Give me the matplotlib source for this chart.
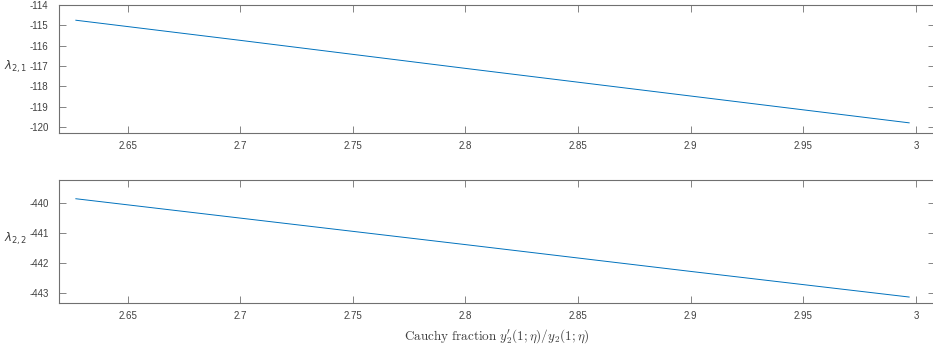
import matplotlib
matplotlib.use("Agg")
import matplotlib.pyplot as plt

# data
x_vals = [2.627, 2.70, 2.80, 2.90, 2.997]
lam21 = [-114.75, -115.74, -117.12, -118.48, -119.80]
lam22 = [-439.85, -440.50, -441.39, -442.29, -443.15]
xticks = [2.65, 2.7, 2.75, 2.8, 2.85, 2.9, 2.95, 3.0]
xtick_labels = ["2.65", "2.7", "2.75", "2.8", "2.85", "2.9", "2.95", "3"]
yticks1 = [-120, -119, -118, -117, -116, -115, -114]
yticks2 = [-443, -442, -441, -440]

plt.rcParams['font.family'] = ['Liberation Sans', 'DejaVu Sans']
plt.rcParams['axes.unicode_minus'] = False

fig = plt.figure(figsize=(9.33, 3.54), dpi=100)
ax1 = fig.add_axes([0.0632, 0.6243, 0.939, 0.3616])
ax2 = fig.add_axes([0.0632, 0.1441, 0.939, 0.3475])

dark = '#404040'
spine = '#707070'
blue = '#0072BD'

for ax, y, yt, ylim, lab in [
    (ax1, lam21, yticks1, (-120.3, -114.0), r'$\lambda_{2,1}$'),
    (ax2, lam22, yticks2, (-443.35, -439.22), r'$\lambda_{2,2}$'),
]:
    ax.plot(x_vals, y, color=blue, lw=0.7)
    ax.set_xlim(2.6195, 3.0085)
    ax.set_ylim(*ylim)
    ax.set_xticks(xticks)
    ax.set_xticklabels(xtick_labels)
    ax.set_yticks(yt)
    ax.set_yticklabels([str(v) for v in yt])
    ax.tick_params(direction='in', length=5, width=0.6, color=spine,
                   labelcolor=dark, labelsize=7, top=True, right=True)
    ax.tick_params(axis='y', pad=7.5)
    ax.tick_params(axis='x', pad=6)
    for s in ax.spines.values():
        s.set_color(spine)
        s.set_linewidth(0.8)
    ax.set_ylabel(lab, rotation=0, fontsize=8.5, color=dark,
                  math_fontfamily='dejavusans', labelpad=0,
                  ha='left', va='center')
    ax.yaxis.set_label_coords(-0.063, 0.52)

ax2.set_xlabel(r'$\mathrm{Cauchy\ fraction}\ y_2^{\prime}(1;\eta)/y_2(1;\eta)$',
               fontsize=9.5, color=dark, math_fontfamily='cm', labelpad=4)

fig.savefig('out.png', dpi=100)
